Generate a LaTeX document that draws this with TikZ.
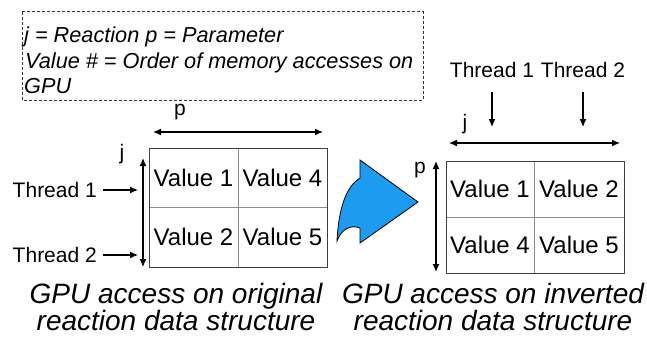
\documentclass[tikz,border=0pt]{standalone}
\usepackage{fontspec}
\setmainfont{Liberation Sans}
\usetikzlibrary{arrows.meta}
\definecolor{arrowblue}{RGB}{29,155,240}
\tikzset{
  dimarrow/.style={line width=1.2pt, {Latex[length=8pt,width=7pt]}-{Latex[length=8pt,width=7pt]}},
  thrarrow/.style={line width=1.2pt, -{Latex[length=8pt,width=7pt]}},
  legendtxt/.style={font=\fontsize{21.7}{25}\selectfont\itshape, anchor=base west, inner sep=0pt},
  celltxt/.style={font=\fontsize{24}{28}\selectfont, inner sep=0pt},
  lbltxt/.style={font=\fontsize{21}{25}\selectfont, inner sep=0pt, anchor=base},
  captxt/.style={font=\fontsize{28}{32}\selectfont\itshape, inner sep=0pt, anchor=base},
  outerbox/.style={draw=black!75, line width=1pt},
  innerline/.style={draw=black!45, line width=1pt}
}
\begin{document}
\begin{tikzpicture}[x=1pt,y=-1pt]
\useasboundingbox (0,0) rectangle (647,337);
% legend box
\draw[dash pattern=on 3pt off 2pt, black!80, line width=1pt] (22,12) rectangle (423,100);
\node[legendtxt] (l1) at (24,42) {j = Reaction p = Parameter};
\node[legendtxt] (l2) at (25,68) {Value \# = Order of memory accesses on};
\node[legendtxt] (l3) at (24,93) {GPU};

% left table
\draw[innerline] (238,148) -- (238,267);
\draw[innerline] (149,207) -- (327,207);
\draw[outerbox] (149,148) rectangle (327,267);
\node[celltxt] (a1) at (193.5,177.5) {Value 1};
\node[celltxt] (a4) at (282.5,177.5) {Value 4};
\node[celltxt] (a2) at (193.5,237) {Value 2};
\node[celltxt] (a5) at (282.5,237) {Value 5};
\coordinate (pl1) at (153,132);
\coordinate (pl2) at (323,132);
\draw[dimarrow] (pl1) -- (pl2);
\node[lbltxt] (pL) at (180,115) {p};
\node[lbltxt] (jL) at (122,159) {j};
\coordinate (jl1) at (143,158);
\coordinate (jl2) at (143,267);
\draw[dimarrow] (jl1) -- (jl2);
\node[lbltxt, anchor=base east] (t1L) at (97,197) {Thread 1};
\node[lbltxt, anchor=base east] (t2L) at (97,262) {Thread 2};
\coordinate (t1Ls) at (103,190);
\coordinate (t2Ls) at (103,255);
\coordinate (t1Le) at (138,190);
\coordinate (t2Le) at (138,255);
\draw[thrarrow] (t1Ls) -- (t1Le);
\draw[thrarrow] (t2Ls) -- (t2Le);

% blue arrow
\draw[fill=arrowblue, draw=black, line width=0.8pt]
  (418,202) -- (360,160) -- (360,178)
  .. controls (350,184) and (339,200) .. (337,241)
  .. controls (341,230) and (350,224) .. (360,228)
  -- (360,243) -- cycle;

% right table
\draw[innerline] (534,161) -- (534,273);
\draw[innerline] (446,217) -- (624,217);
\draw[outerbox] (446,161) rectangle (624,273);
\node[celltxt] (b1) at (490,189) {Value 1};
\node[celltxt] (b2) at (579,189) {Value 2};
\node[celltxt] (b4) at (490,245) {Value 4};
\node[celltxt] (b5) at (579,245) {Value 5};
\coordinate (jr1) at (449,143);
\coordinate (jr2) at (620,143);
\draw[dimarrow] (jr1) -- (jr2);
\node[lbltxt] (jR) at (465,129) {j};
\node[lbltxt] (pR) at (420,173) {p};
\coordinate (pr1) at (436,161);
\coordinate (pr2) at (436,272);
\draw[dimarrow] (pr1) -- (pr2);
\node[lbltxt] (t1R) at (492,77) {Thread 1};
\node[lbltxt] (t2R) at (583,77) {Thread 2};
\coordinate (t1Rs) at (492,92);
\coordinate (t1Re) at (492,127);
\coordinate (t2Rs) at (583,92);
\coordinate (t2Re) at (583,127);
\draw[thrarrow] (t1Rs) -- (t1Re);
\draw[thrarrow] (t2Rs) -- (t2Re);

% captions
\node[captxt] (c1) at (176,303) {GPU access on original};
\node[captxt] (c2) at (176,330) {reaction data structure};
\node[captxt] (c3) at (493,303) {GPU access on inverted};
\node[captxt] (c4) at (493,330) {reaction data structure};
\end{tikzpicture}
\end{document}
